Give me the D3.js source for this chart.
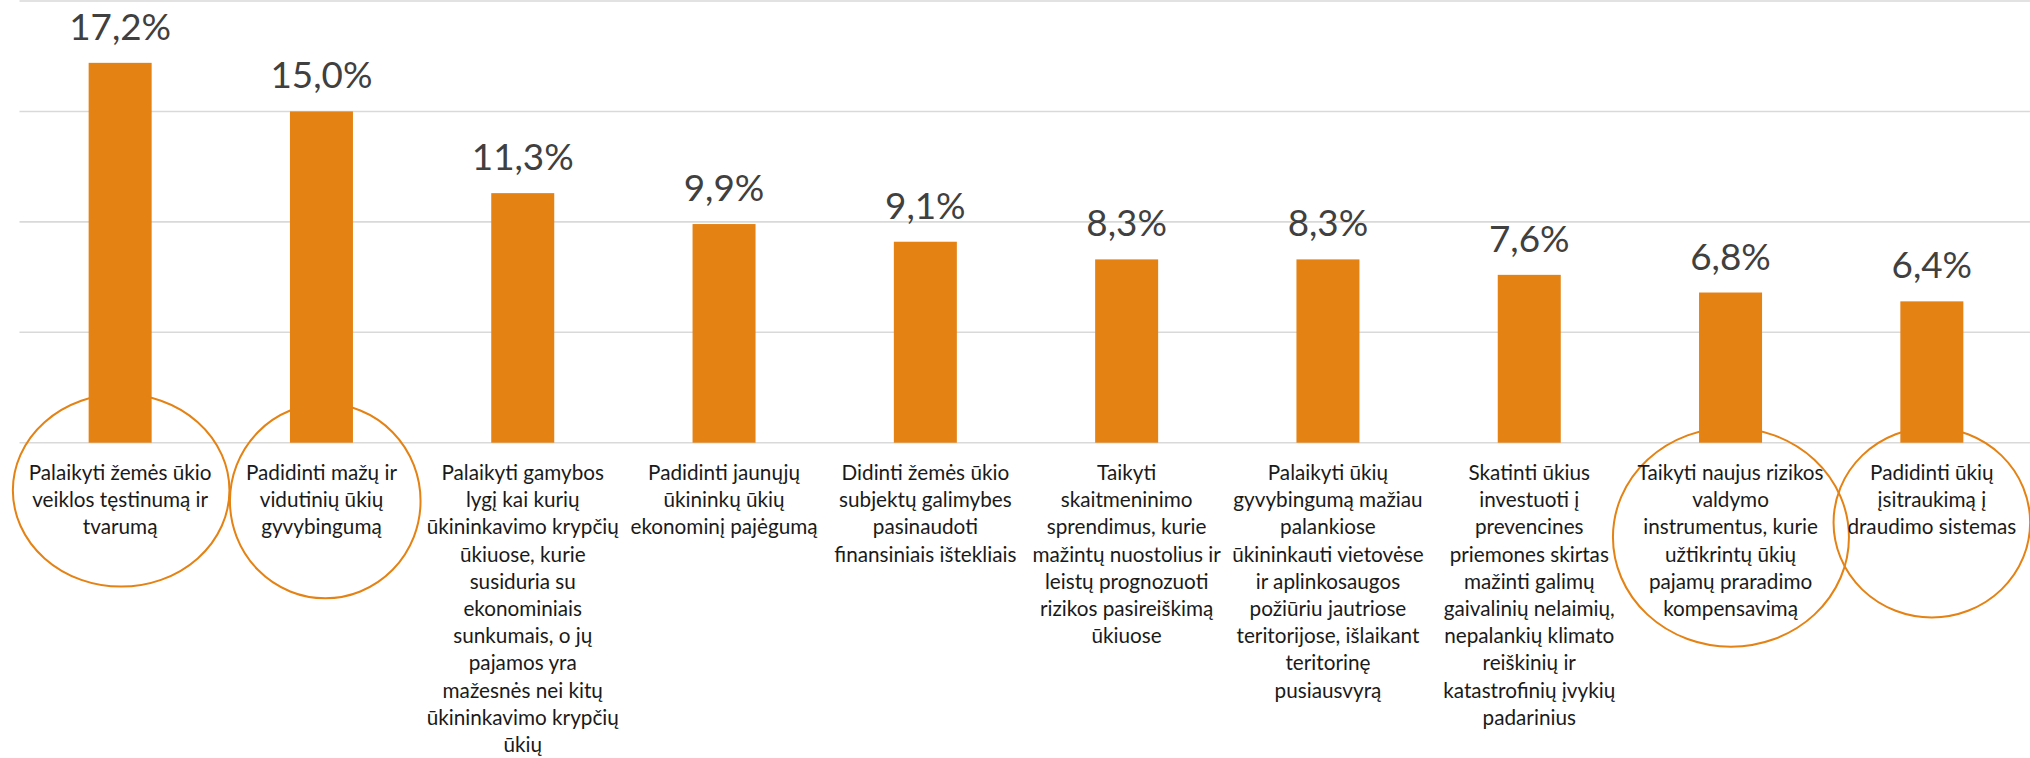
<!DOCTYPE html>
<html>
<head>
<meta charset="utf-8">
<script src="https://cdn.jsdelivr.net/npm/d3@7"></script>
<style>
  html, body { margin: 0; padding: 0; background: #ffffff; }
  svg { display: block; }
</style>
</head>
<body>
<svg id="chart" width="2030" height="758"></svg>
<script>
// ---- DATA ----
const categories = [
  ["Palaikyti žemės ūkio", "veiklos tęstinumą ir", "tvarumą"],
  ["Padidinti mažų ir", "vidutinių ūkių", "gyvybingumą"],
  ["Palaikyti gamybos", "lygį kai kurių", "ūkininkavimo krypčių", "ūkiuose, kurie", "susiduria su", "ekonominiais", "sunkumais, o jų", "pajamos yra", "mažesnės nei kitų", "ūkininkavimo krypčių", "ūkių"],
  ["Padidinti jaunųjų", "ūkininkų ūkių", "ekonominį pajėgumą"],
  ["Didinti žemės ūkio", "subjektų galimybes", "pasinaudoti", "finansiniais ištekliais"],
  ["Taikyti", "skaitmeninimo", "sprendimus, kurie", "mažintų nuostolius ir", "leistų prognozuoti", "rizikos pasireiškimą", "ūkiuose"],
  ["Palaikyti ūkių", "gyvybingumą mažiau", "palankiose", "ūkininkauti vietovėse", "ir aplinkosaugos", "požiūriu jautriose", "teritorijose, išlaikant", "teritorinę", "pusiausvyrą"],
  ["Skatinti ūkius", "investuoti į", "prevencines", "priemones skirtas", "mažinti galimų", "gaivalinių nelaimių,", "nepalankių klimato", "reiškinių ir", "katastrofinių įvykių", "padarinius"],
  ["Taikyti naujus rizikos", "valdymo", "instrumentus, kurie", "užtikrintų ūkių", "pajamų praradimo", "kompensavimą"],
  ["Padidinti ūkių", "įsitraukimą į", "draudimo sistemas"]
];
const values = [17.2, 15.0, 11.3, 9.9, 9.1, 8.3, 8.3, 7.6, 6.8, 6.4];
const yTicks = [0, 5, 10, 15, 20];
const highlighted = [0, 1, 8, 9];

// ---- LAYOUT / STYLE ----
const W = 2030, H = 758;
const plotLeft = 19.5, plotRight = 2032.5;
const plotTop = 1, plotBottom = 442.7;
const barColor = "#e48214";
const gridColor = "#d9d9d9";
const fontFamily = "Lato, 'Open Sans', 'DejaVu Sans', sans-serif";
// hand-drawn ellipse shapes (offsets from band centre / baseline)
const ellipseShapes = [
  { dx: 1,   dy: 47.6, rx: 108.3, ry: 96.3 },
  { dx: 3.8, dy: 58.3, rx: 95.3,  ry: 97.3 },
  { dx: 0.4, dy: 94.5, rx: 118,   ry: 109.5 },
  { dx: 0,   dy: 79.8, rx: 98.3,  ry: 94.9 }
];

const svg = d3.select("#chart");
svg.append("rect").attr("width", W).attr("height", H).attr("fill", "#fff");

const idx = d3.range(values.length);
const p = 1 - 63 / 201.3;
const x = d3.scaleBand().domain(idx).range([plotLeft, plotRight])
  .paddingInner(p).paddingOuter(p / 2);
const y = d3.scaleLinear().domain([0, 20]).range([plotBottom, plotTop]);

function fitSize(text, targetW) {
  const t = svg.append("text").attr("font-family", fontFamily).attr("font-size", 100).text(text);
  const w = t.node().getComputedTextLength();
  t.remove();
  return 100 * targetW / w;
}
const valueSize = fitSize("17,2%", 102);
const catSize = fitSize("Palaikyti žemės ūkio", 183);

// gridlines
svg.append("g").selectAll("line").data(yTicks).join("line")
  .attr("x1", plotLeft).attr("x2", W)
  .attr("y1", d => y(d)).attr("y2", d => y(d))
  .attr("stroke", gridColor).attr("stroke-width", 1.6);

// ellipses (behind bars)
const cx = i => x(i) + x.bandwidth() / 2;
svg.append("g").selectAll("ellipse").data(highlighted).join("ellipse")
  .attr("cx", (d, k) => cx(d) + ellipseShapes[k].dx)
  .attr("cy", (d, k) => y(0) + ellipseShapes[k].dy)
  .attr("rx", (d, k) => ellipseShapes[k].rx)
  .attr("ry", (d, k) => ellipseShapes[k].ry)
  .attr("fill", "none").attr("stroke", barColor).attr("stroke-width", 2);

// bars
svg.append("g").selectAll("rect").data(values).join("rect")
  .attr("x", (d, i) => x(i)).attr("width", x.bandwidth())
  .attr("y", d => y(d)).attr("height", d => y(0) - y(d))
  .attr("fill", barColor);

// value labels
const loc = d3.formatLocale({ decimal: ",", thousands: " ", grouping: [3], currency: ["", "€"] });
const fmt = loc.format(".1f");
svg.append("g").selectAll("text").data(values).join("text")
  .attr("x", (d, i) => cx(i)).attr("y", d => y(d) - 23)
  .attr("text-anchor", "middle")
  .attr("font-family", fontFamily).attr("font-size", valueSize)
  .attr("fill", "#404040")
  .text(d => fmt(d) + "%");

// category labels
const lineH = 27.2;
const cat = svg.append("g").selectAll("text").data(categories).join("text")
  .attr("text-anchor", "middle")
  .attr("font-family", fontFamily).attr("font-size", catSize)
  .attr("fill", "#1a1a1a");
cat.each(function(lines, i) {
  d3.select(this).selectAll("tspan").data(lines).join("tspan")
    .attr("x", cx(i))
    .attr("y", (l, j) => y(0) + 37.3 + j * lineH)
    .text(l => l);
});
</script>
</body>
</html>
